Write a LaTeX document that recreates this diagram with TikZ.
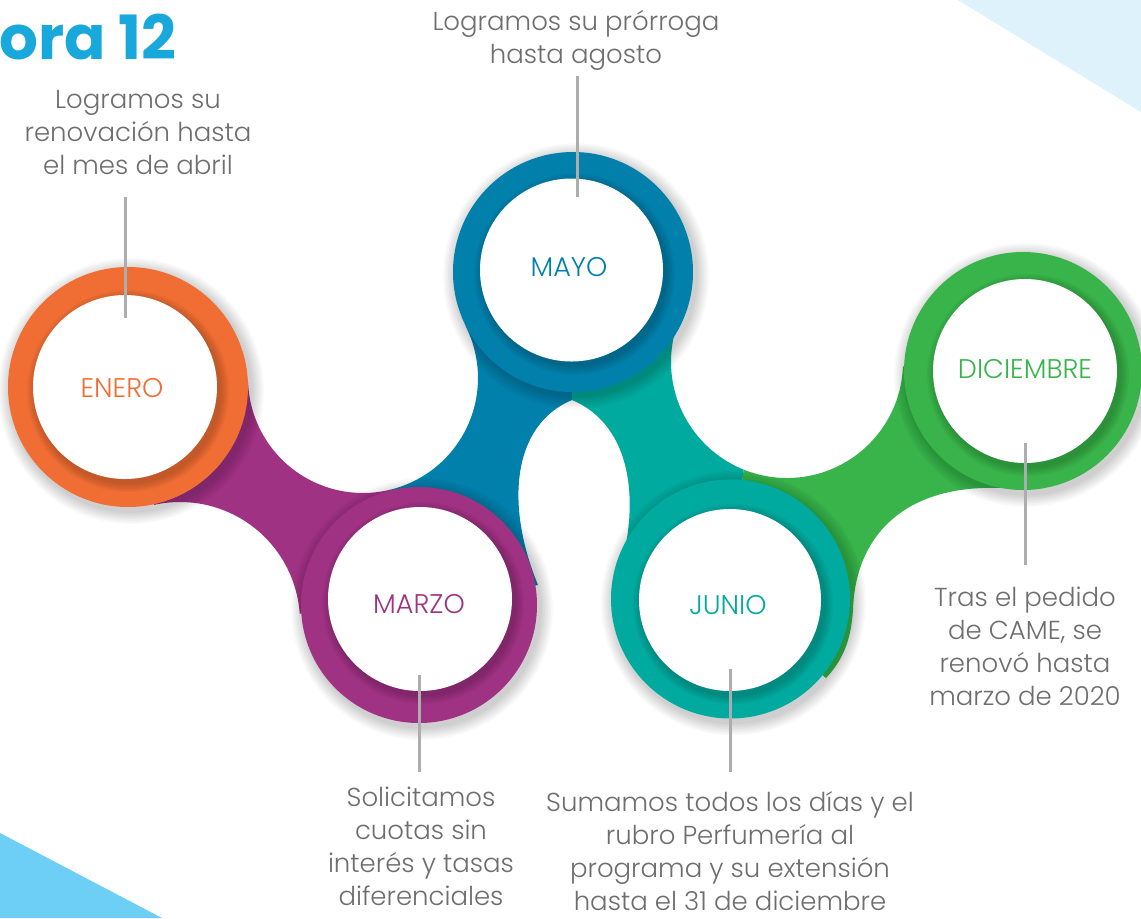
\documentclass[tikz,border=0pt]{standalone}
\usepackage{fontspec}
\setmainfont{Poppins}
\IfFontExistsTF{Poppins Light}{\newfontfamily\lightfont{Poppins Light}}{\newfontfamily\lightfont{Poppins}}
\IfFontExistsTF{Poppins Bold}{\newfontfamily\titlefont{Poppins Bold}}{\newfontfamily\titlefont{Poppins}[FakeBold=2]}
\usetikzlibrary{calc}
\definecolor{corange}{HTML}{F06E34}
\definecolor{cpurple}{HTML}{A03283}
\definecolor{cblue}{HTML}{0180AC}
\definecolor{cteal}{HTML}{00AA9E}
\definecolor{cgreen}{HTML}{38B44A}
\definecolor{titleblue}{HTML}{19A8DC}
\definecolor{txtgray}{HTML}{6E6E70}
\definecolor{leadgray}{HTML}{ABADAF}
\definecolor{paleblue}{HTML}{DDF2FB}
\definecolor{skyblue}{HTML}{6DCFF6}
\newcommand\ringshadow[3]{\foreach \k in {1,...,8}{\fill[black,opacity=0.024] ({#1+3},{#2+4}) circle[radius={#3+\k*1.6}];}}
\newcommand\discshadow[3]{\foreach \k in {1,...,6}{\fill[black,opacity=0.032] ({#1+3},{#2+4}) circle[radius={#3+\k*1.5}];}}
\tikzset{
  ring/.style={circle, inner sep=0pt, outer sep=0pt, draw=none},
  disc/.style={circle, inner sep=0pt, outer sep=0pt, draw=none, fill=white},
  mlabel/.style={font=\lightfont\fontsize{13.5}{16}\selectfont, inner sep=0pt},
  desc/.style={font=\lightfont\fontsize{13}{16.5}\selectfont, text=txtgray, align=center, inner sep=0pt},
  leader/.style={draw=leadgray, line width=1.5pt},
}
\begin{document}
\begin{tikzpicture}[x=0.5pt,y=-0.5pt]
\useasboundingbox (0,0) rectangle (1141,918);
\clip (0,0) rectangle (1141,918);
\fill[white] (0,0) rectangle (1141,918);
% corner triangles
\fill[paleblue] (958,0) -- (1141,0) -- (1141,112) -- cycle;
\fill[skyblue] (0,833) -- (162,918) -- (0,918) -- cycle;
% title
\node[font=\titlefont\fontsize{30.5}{30}\selectfont, text=titleblue, anchor=base west, inner sep=0pt] (title) at (-1,59) {ora 12};
% centres
\coordinate (eC) at (128,387);
\coordinate (yC) at (573,272);
\coordinate (mC) at (419,605);
\coordinate (jC) at (730.5,599);
\coordinate (dC) at (1023,371);
\coordinate (G1) at (363,378);
\coordinate (G2) at (180,622);
\coordinate (G4) at (787,362);
\coordinate (cusp) at (572,400);
% bridges
\fill[cpurple] (eC) -- ($(G1)+(177.8:115)$) arc[start angle=177.8,end angle=76,radius=115]
  -- (mC) -- ($(G2)+(-4:120)$) arc[start angle=-4,end angle=-102.5,radius=120] -- cycle;
\fill[cblue] (yC) -- ($(G1)+(-26.8:115)$) arc[start angle=-26.8,end angle=76,radius=115]
  -- (mC) -- (538,585) .. controls (505,505) and (512,425) .. (cusp) -- cycle;
\fill[cgreen] (jC) -- ($(G4)+(112:116)$) arc[start angle=112,end angle=2.2,radius=116]
  -- (dC) -- (1002,488) .. controls (900,484) and (855,540) .. (853,610)
  .. controls (851,640) and (843,660) .. (826,678) -- cycle;
\fill[cteal] (yC) -- ($(G4)+(202.8:116)$) arc[start angle=202.8,end angle=112,radius=116]
  -- (jC) -- (612,595) .. controls (645,505) and (632,425) .. (cusp) -- cycle;
% rings
\ringshadow{128}{387}{120}
\node[ring, fill=corange, minimum size=120pt] (eneroR) at (eC) {};
\ringshadow{573}{272}{120}
\node[ring, fill=cblue, minimum size=120pt] (mayoR) at (yC) {};
\ringshadow{419}{605}{118}
\node[ring, fill=cpurple, minimum size=118pt] (marzoR) at (mC) {};
\ringshadow{730.5}{599}{119.5}
\node[ring, fill=cteal, minimum size=119.5pt] (junioR) at (jC) {};
\ringshadow{1023}{371}{119}
\node[ring, fill=cgreen, minimum size=119pt] (dicR) at (dC) {};
% inner discs
\discshadow{125}{387}{92}
\node[disc, minimum size=92pt] (eneroD) at (125,387) {};
\discshadow{571.5}{270}{91.5}
\node[disc, minimum size=91.5pt] (mayoD) at (571.5,270) {};
\discshadow{420}{599}{92}
\node[disc, minimum size=92pt] (marzoD) at (420,599) {};
\discshadow{730}{600}{91}
\node[disc, minimum size=91pt] (junioD) at (730,600) {};
\discshadow{1025}{371}{92}
\node[disc, minimum size=92pt] (dicD) at (1025,371) {};
% month labels
\node[mlabel, text=corange] (eneroL) at (122,388) {ENERO};
\node[mlabel, text=cblue] (mayoL) at (569,267) {MAYO};
\node[mlabel, text=cpurple] (marzoL) at (419,604.5) {MARZO};
\node[mlabel, text=cteal] (junioL) at (728,605) {JUNIO};
\node[mlabel, text=cgreen] (dicL) at (1025,369.5) {DICIEMBRE};
% leaders
\coordinate (eA) at (125,197); \coordinate (eB) at (125,318);
\coordinate (yA) at (577,76);  \coordinate (yB) at (577,197);
\coordinate (mA) at (419,675); \coordinate (mB) at (419,772);
\coordinate (jA) at (730,669); \coordinate (jB) at (730,772);
\coordinate (dA) at (1025,443); \coordinate (dB) at (1025,565);
\draw[leader] (eA) -- (eB);
\draw[leader] (yA) -- (yB);
\draw[leader] (mA) -- (mB);
\draw[leader] (jA) -- (jB);
\draw[leader] (dA) -- (dB);
% descriptions
\node[desc] (eneroT) at (138,133) {Logramos su\\renovación hasta\\el mes de abril};
\node[desc] (mayoT) at (576,40) {Logramos su prórroga\\hasta agosto};
\node[desc] (marzoT) at (421,846) {Solicitamos\\cuotas sin\\interés y tasas\\diferenciales};
\node[desc] (junioT) at (730,851) {Sumamos todos los días y el\\rubro Perfumería al\\programa y su extensión\\hasta el 31 de diciembre};
\node[desc] (dicT) at (1025,646) {Tras el pedido\\de CAME, se\\renovó hasta\\marzo de 2020};
\end{tikzpicture}
\end{document}
